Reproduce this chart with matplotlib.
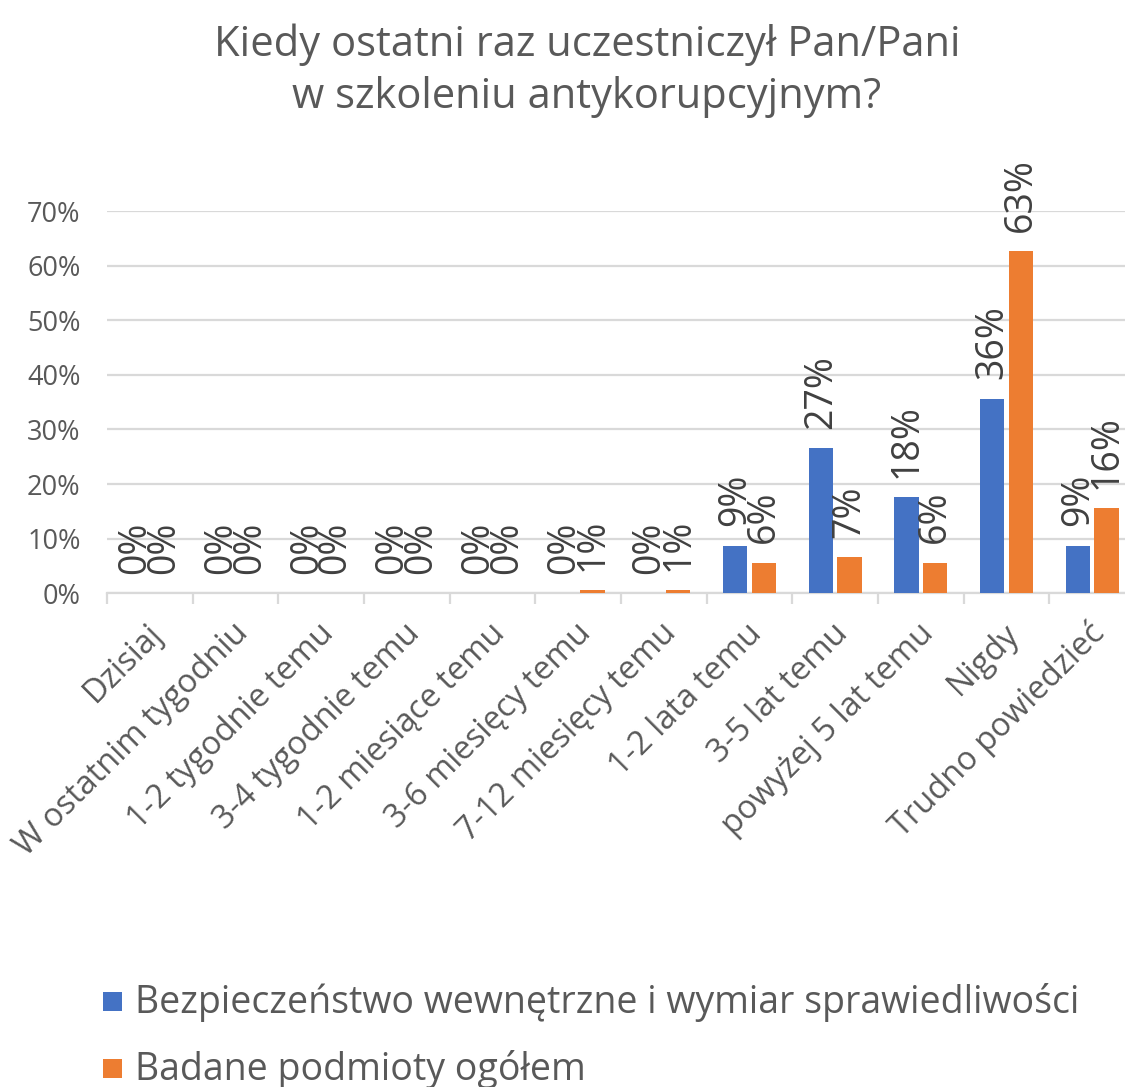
import matplotlib
matplotlib.use("Agg")
import matplotlib.pyplot as plt
import matplotlib.transforms as mtransforms
import numpy as np
from matplotlib.patches import Rectangle

plt.rcParams['font.family'] = ['Open Sans', 'DejaVu Sans']

categories = ["Dzisiaj", "W ostatnim tygodniu", "1-2 tygodnie temu", "3-4 tygodnie temu",
              "1-2 miesiące temu", "3-6 miesięcy temu", "7-12 miesięcy temu", "1-2 lata temu",
              "3-5 lat temu", "powyżej 5 lat temu", "Nigdy", "Trudno powiedzieć"]
series_names = ["Bezpieczeństwo wewnętrzne i wymiar sprawiedliwości", "Badane podmioty ogółem"]
blue_vals = [0, 0, 0, 0, 0, 0, 0, 8.7, 26.6, 17.6, 35.6, 8.7]
orange_vals = [0, 0, 0, 0, 0, 0.6, 0.6, 5.6, 6.6, 5.6, 62.6, 15.6]
yticks = [0, 10, 20, 30, 40, 50, 60, 70]

W, H = 1125, 1087
fig = plt.figure(figsize=(W / 100, H / 100), dpi=100)
ax = fig.add_axes([107 / W, 1 - 593.3 / H, (1135 - 107) / W, (593.3 - 211) / H])

x = np.arange(len(categories))
bw = 0.286
off = 0.168
blue = "#4472C4"
orange = "#ED7D31"
grid_c = "#D9D9D9"
txt_c = "#595959"
lab_c = "#404040"

b1 = ax.bar(x - off, blue_vals, bw, color=blue, zorder=3)
b2 = ax.bar(x + off, orange_vals, bw, color=orange, zorder=3)

for bars, vals in ((b1, blue_vals), (b2, orange_vals)):
    for rect, v in zip(bars, vals):
        ax.annotate(f"{round(v)}%", (rect.get_x() + rect.get_width() / 2, v),
                    xytext=(0, 14), textcoords="offset points", rotation=90,
                    ha="center", va="bottom", fontsize=27, color=lab_c, zorder=4,
                    annotation_clip=False)

ax.set_xlim(-0.5, len(categories) - 0.5)
ax.set_ylim(0, 70)
ax.set_yticks(yticks)
ax.set_yticklabels([f"{t}%" for t in yticks], fontsize=19.5, color=txt_c)
ax.tick_params(axis="y", length=0, pad=19)
ax.yaxis.grid(True, color=grid_c, linewidth=1.6, zorder=0)
ax.set_axisbelow(True)

ax.set_xticks(np.arange(len(categories) + 1) - 0.5)
ax.set_xticklabels([])
ax.tick_params(axis="x", which="major", length=8, width=1.6, color=grid_c, direction="out")
ax.set_xticks(x, minor=True)
ax.set_xticklabels(categories, minor=True, rotation=45, ha="right",
                   rotation_mode="anchor", fontsize=23.5, color=txt_c)
ax.tick_params(axis="x", which="minor", length=0, pad=17)
shift = mtransforms.ScaledTranslation(-4 / 100, 0, fig.dpi_scale_trans)
for lab in ax.get_xticklabels(minor=True):
    lab.set_transform(lab.get_transform() + shift)

for s in ("top", "right", "left"):
    ax.spines[s].set_visible(False)
ax.spines["bottom"].set_color(grid_c)
ax.spines["bottom"].set_linewidth(1.6)

fig.text(587 / W, 1 - 45 / H, "Kiedy ostatni raz uczestniczył Pan/Pani",
         ha="center", va="center", fontsize=30, color=txt_c)
fig.text(587 / W, 1 - 97 / H, "w szkoleniu antykorupcyjnym?",
         ha="center", va="center", fontsize=30, color=txt_c)

# legend
for (ytop, ybase), col, name in zip(((992, 1013), (1059, 1080)), (blue, orange), series_names):
    fig.patches.append(Rectangle((103 / W, 1 - (ytop + 19) / H), 19 / W, 19 / H,
                                 transform=fig.transFigure, facecolor=col, edgecolor="none"))
    fig.text(135 / W, 1 - ybase / H, name, ha="left", va="baseline",
             fontsize=27, color=txt_c)

fig.savefig("out.png", dpi=100)
